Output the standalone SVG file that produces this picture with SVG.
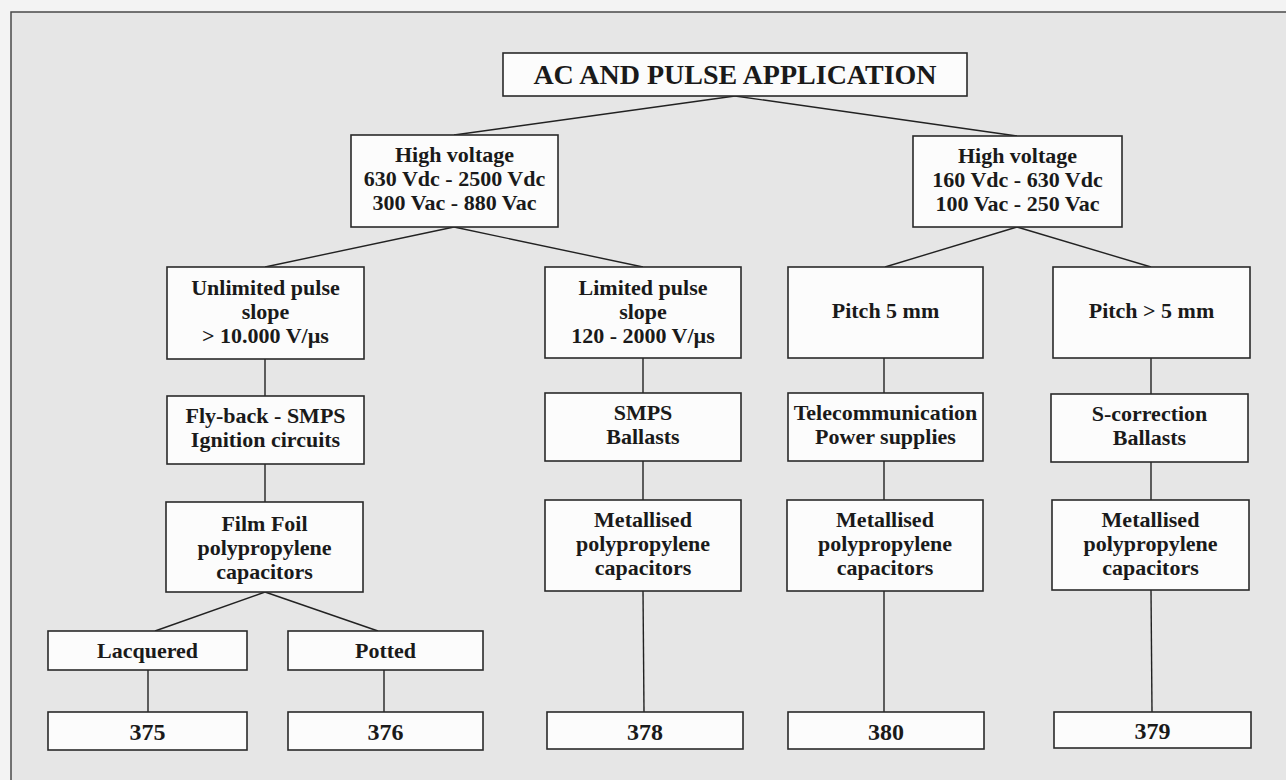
<svg xmlns="http://www.w3.org/2000/svg" width="1286" height="780" viewBox="0 0 1286 780">
<style>
.box{fill:#fcfcfc;stroke:#2a2a2a;stroke-width:1.6}
.t{font-family:"Liberation Serif","Times New Roman",serif;font-weight:bold;font-size:22px;fill:#1a1a1a;text-anchor:middle}
.title{font-size:28px}
.num{font-size:24px}
#connectors line{stroke:#222;stroke-width:1.4}
</style>
<rect x="0" y="0" width="1286" height="780" fill="#f3f3f3"/>
<rect x="11" y="12" width="1290" height="790" fill="#e6e6e6"/>
<path d="M11 800 L11 12 L1300 12" fill="none" stroke="#4a4a4a" stroke-width="1.5"/>

<g id="connectors">
<line x1="735" y1="96" x2="454" y2="135"/>
<line x1="735" y1="96" x2="1017" y2="136"/>
<line x1="454" y1="227" x2="265" y2="267"/>
<line x1="454" y1="227" x2="643" y2="267"/>
<line x1="1017" y1="227" x2="885" y2="267"/>
<line x1="1017" y1="227" x2="1151" y2="267"/>
<line x1="265" y1="359" x2="265" y2="396"/>
<line x1="265" y1="464" x2="265" y2="502"/>
<line x1="265" y1="592" x2="155" y2="631"/>
<line x1="265" y1="592" x2="378" y2="631"/>
<line x1="148" y1="670" x2="148" y2="712"/>
<line x1="384" y1="670" x2="384" y2="712"/>
<line x1="643" y1="358" x2="643" y2="393"/>
<line x1="643" y1="461" x2="643" y2="500"/>
<line x1="643" y1="591" x2="644" y2="712"/>
<line x1="884" y1="358" x2="884" y2="393"/>
<line x1="884" y1="461" x2="884" y2="500"/>
<line x1="884" y1="591" x2="884" y2="712"/>
<line x1="1151" y1="358" x2="1151" y2="394"/>
<line x1="1151" y1="462" x2="1151" y2="500"/>
<line x1="1151" y1="590" x2="1152" y2="712"/>
</g>

<g id="title">
<rect class="box" x="503" y="53" width="464" height="43"/>
<text class="t title" x="735" y="84">AC AND PULSE APPLICATION</text>
</g>

<g id="hv-high">
<rect class="box" x="351" y="135" width="207" height="92"/>
<text class="t" x="454.5" y="162">High voltage</text>
<text class="t" x="454.5" y="186">630 Vdc - 2500 Vdc</text>
<text class="t" x="454.5" y="210">300 Vac - 880 Vac</text>
</g>

<g id="hv-low">
<rect class="box" x="913" y="136" width="209" height="91"/>
<text class="t" x="1017.5" y="163">High voltage</text>
<text class="t" x="1017.5" y="187">160 Vdc - 630 Vdc</text>
<text class="t" x="1017.5" y="211">100 Vac - 250 Vac</text>
</g>

<g id="unlimited">
<rect class="box" x="167" y="267" width="197" height="92"/>
<text class="t" x="265.5" y="295">Unlimited pulse</text>
<text class="t" x="265.5" y="319">slope</text>
<text class="t" x="265.5" y="343">&gt; 10.000 V/µs</text>
</g>

<g id="limited">
<rect class="box" x="545" y="267" width="196" height="91"/>
<text class="t" x="643" y="295">Limited pulse</text>
<text class="t" x="643" y="319">slope</text>
<text class="t" x="643" y="343">120 - 2000 V/µs</text>
</g>

<g id="pitch5">
<rect class="box" x="788" y="267" width="195" height="91"/>
<text class="t" x="885.5" y="318">Pitch 5 mm</text>
</g>

<g id="pitchgt5">
<rect class="box" x="1053" y="267" width="197" height="91"/>
<text class="t" x="1151.5" y="318">Pitch &gt; 5 mm</text>
</g>

<g id="flyback">
<rect class="box" x="167" y="396" width="197" height="68"/>
<text class="t" x="265.5" y="423">Fly-back - SMPS</text>
<text class="t" x="265.5" y="447">Ignition circuits</text>
</g>

<g id="smps">
<rect class="box" x="545" y="393" width="196" height="68"/>
<text class="t" x="643" y="420">SMPS</text>
<text class="t" x="643" y="444">Ballasts</text>
</g>

<g id="telecom">
<rect class="box" x="788" y="393" width="195" height="68"/>
<text class="t" x="885.5" y="420">Telecommunication</text>
<text class="t" x="885.5" y="444">Power supplies</text>
</g>

<g id="scorrection">
<rect class="box" x="1051" y="394" width="197" height="68"/>
<text class="t" x="1149.5" y="421">S-correction</text>
<text class="t" x="1149.5" y="445">Ballasts</text>
</g>

<g id="filmfoil">
<rect class="box" x="166" y="502" width="197" height="90"/>
<text class="t" x="264.5" y="531">Film Foil</text>
<text class="t" x="264.5" y="555">polypropylene</text>
<text class="t" x="264.5" y="579">capacitors</text>
</g>

<g id="metallised1">
<rect class="box" x="545" y="500" width="196" height="91"/>
<text class="t" x="643" y="527">Metallised</text>
<text class="t" x="643" y="551">polypropylene</text>
<text class="t" x="643" y="575">capacitors</text>
</g>

<g id="metallised2">
<rect class="box" x="787" y="500" width="196" height="91"/>
<text class="t" x="885" y="527">Metallised</text>
<text class="t" x="885" y="551">polypropylene</text>
<text class="t" x="885" y="575">capacitors</text>
</g>

<g id="metallised3">
<rect class="box" x="1052" y="500" width="197" height="90"/>
<text class="t" x="1150.5" y="527">Metallised</text>
<text class="t" x="1150.5" y="551">polypropylene</text>
<text class="t" x="1150.5" y="575">capacitors</text>
</g>

<g id="lacquered">
<rect class="box" x="48" y="631" width="199" height="39"/>
<text class="t" x="147.5" y="658">Lacquered</text>
</g>

<g id="potted">
<rect class="box" x="288" y="631" width="195" height="39"/>
<text class="t" x="385.5" y="658">Potted</text>
</g>

<g id="n375">
<rect class="box" x="48" y="712" width="199" height="38"/>
<text class="t num" x="147.5" y="740">375</text>
</g>

<g id="n376">
<rect class="box" x="288" y="712" width="195" height="38"/>
<text class="t num" x="385.5" y="740">376</text>
</g>

<g id="n378">
<rect class="box" x="547" y="712" width="196" height="37"/>
<text class="t num" x="645" y="740">378</text>
</g>

<g id="n380">
<rect class="box" x="788" y="712" width="196" height="37"/>
<text class="t num" x="886" y="740">380</text>
</g>

<g id="n379">
<rect class="box" x="1054" y="712" width="197" height="36"/>
<text class="t num" x="1152.5" y="739">379</text>
</g>
</svg>
